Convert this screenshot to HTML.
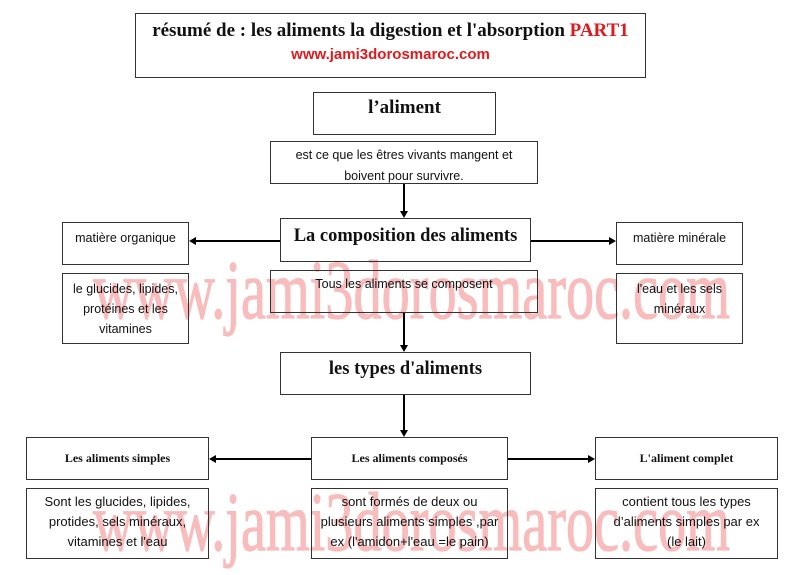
<!DOCTYPE html>
<html><head><meta charset="utf-8"><style>
body{margin:0;background:#fff;}
#c{position:relative;width:800px;height:575px;overflow:hidden;font-family:"Liberation Sans",sans-serif;}
.b{position:absolute;border:1.3px solid #333;box-sizing:border-box;text-align:center;color:#111;}
.s{font-family:"Liberation Sans",sans-serif;font-size:12.5px;line-height:20px;}
.t{font-family:"Liberation Serif",serif;font-weight:bold;}
svg{position:absolute;left:0;top:0;}
</style></head><body><div id="c">
<svg width="800" height="575">
<text x="93" y="318" font-family="Liberation Serif" font-size="84" fill="#f9bcbc" stroke="#f9bcbc" stroke-width="1.2" textLength="637" lengthAdjust="spacingAndGlyphs">www.jami3dorosmaroc.com</text>
<text x="93" y="550" font-family="Liberation Serif" font-size="84" fill="#f9bcbc" stroke="#f9bcbc" stroke-width="1.2" textLength="637" lengthAdjust="spacingAndGlyphs">www.jami3dorosmaroc.com</text>
<g stroke="#000" stroke-width="2" fill="#000">
<line x1="404" y1="183" x2="404" y2="212"/><polygon points="400,211 408,211 404,218" stroke="none"/>
<line x1="404" y1="312" x2="404" y2="346"/><polygon points="400,345 408,345 404,352" stroke="none"/>
<line x1="404" y1="394" x2="404" y2="431"/><polygon points="400,430 408,430 404,437" stroke="none"/>
<line x1="280" y1="241" x2="195" y2="241"/><polygon points="196,237 196,245 189,241" stroke="none"/>
<line x1="530" y1="241" x2="610" y2="241"/><polygon points="609,237 609,245 616,241" stroke="none"/>
<line x1="311" y1="459" x2="215" y2="459"/><polygon points="216,455 216,463 209,459" stroke="none"/>
<line x1="507" y1="459" x2="589" y2="459"/><polygon points="588,455 588,463 595,459" stroke="none"/>
</g></svg>
<div class="b" style="left:135px;top:13px;width:511px;height:65px;">
<div class="t" style="font-size:19px;margin-top:6px;">résumé de : les aliments la digestion et l'absorption <span style="color:#e0191c">PART1</span></div>
<div style="color:#e0191c;font-weight:bold;font-size:15px;margin-top:4px;">www.jami3dorosmaroc.com</div></div>
<div class="b t" style="left:313px;top:92px;width:183px;height:43px;font-size:19px;line-height:30px;">l’aliment</div>
<div class="b s" style="left:270px;top:141px;width:268px;height:43px;padding-top:3px;line-height:21px;">est ce que les êtres vivants mangent et<br>boivent pour survivre.</div>
<div class="b t" style="left:280px;top:218px;width:251px;height:44px;font-size:18.5px;line-height:34px;">La composition des aliments</div>
<div class="b s" style="left:270px;top:270px;width:268px;height:43px;padding-top:3px;">Tous les aliments se composent</div>
<div class="b s" style="left:62px;top:222px;width:127px;height:43px;padding-top:5px;">matière organique</div>
<div class="b s" style="left:62px;top:273px;width:127px;height:71px;padding-top:5px;">le glucides, lipides,<br>protéines et les<br>vitamines</div>
<div class="b s" style="left:616px;top:222px;width:127px;height:43px;padding-top:5px;">matière minérale</div>
<div class="b s" style="left:616px;top:273px;width:127px;height:71px;padding-top:5px;">l'eau et les sels<br>minéraux</div>
<div class="b t" style="left:280px;top:352px;width:251px;height:43px;font-size:18.5px;line-height:32px;">les types d'aliments</div>
<div class="b t" style="left:26px;top:437px;width:183px;height:43px;font-size:12px;line-height:41px;">Les aliments simples</div>
<div class="b t" style="left:311px;top:437px;width:197px;height:43px;font-size:12px;line-height:41px;">Les aliments composés</div>
<div class="b t" style="left:595px;top:437px;width:183px;height:43px;font-size:12px;line-height:41px;">L'aliment complet</div>
<div class="b s" style="left:26px;top:488px;width:183px;height:71px;padding-top:3px;font-size:13px;">Sont les glucides, lipides,<br>protides, sels minéraux,<br>vitamines et l'eau</div>
<div class="b s" style="left:311px;top:488px;width:197px;height:71px;padding-top:3px;font-size:13px;">sont formés de deux ou<br>plusieurs aliments simples ,par<br>ex (l'amidon+l'eau =le pain)</div>
<div class="b s" style="left:595px;top:488px;width:183px;height:71px;padding-top:3px;font-size:13px;">contient tous les types<br>d’aliments simples par ex<br>(le lait)</div>
</div></body></html>
